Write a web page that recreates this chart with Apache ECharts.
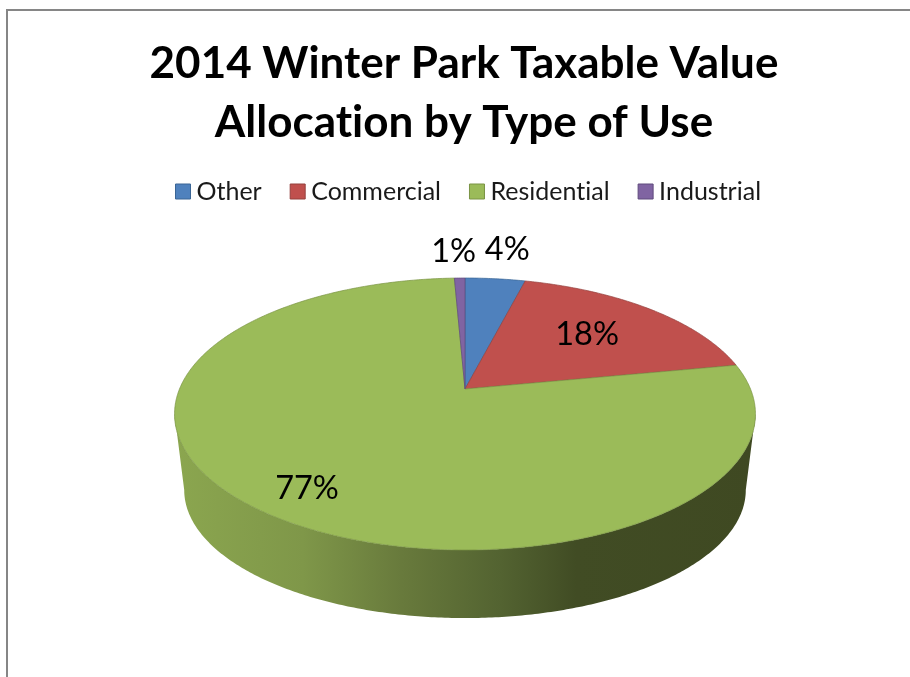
<!DOCTYPE html>
<html>
<head>
<meta charset="utf-8">
<style>html,body{margin:0;padding:0;background:#fff}#c{width:910px;height:677px}</style>
<script src="https://cdn.jsdelivr.net/npm/echarts@6/dist/echarts.min.js"></script>
</head>
<body>
<div id="c"></div>
<script>
const categories = ['Other', 'Commercial', 'Residential', 'Industrial'];
const values = [4.0, 18.0, 77.3, 0.7];
const titleText = '2014 Winter Park Taxable Value\nAllocation by Type of Use';

const colors = ['#4f81bd', '#c0504d', '#9bbb59', '#8064a2'];
const edges = ['#3a6595', '#94403d', '#7a9444', '#5f4a7d'];
// placement of each percentage label: radius fraction, then pixel nudge
const labelPlace = [[1, 12, -29], [0.65, -3, 0], [0.83, 9, 2], [1, -6, -27]];

// plain glyphs, no "ti" ligature, as in the reference
const origGetContext = HTMLCanvasElement.prototype.getContext;
HTMLCanvasElement.prototype.getContext = function () {
  const ctx = origGetContext.apply(this, arguments);
  if (ctx && 'textRendering' in ctx) ctx.textRendering = 'optimizeSpeed';
  return ctx;
};

// Tilted-disc projection of the pie
const K = 0.1838;
const TOP = {cx: 465, cy: 389, bx: 285.5, by: 131.4};
const BOTTOM = {cx: 465, cy: 466.5, bx: 276, by: 123.7};
const SIDE_FROM = Math.acos(-K), SIDE_TO = 2 * Math.PI - SIDE_FROM;

function project(face, theta, r) {
  const u = r * Math.sin(theta), v = r * Math.cos(theta), w = 1 + K * v;
  return [face.cx + face.bx * u / w, face.cy - face.by * v / w];
}
function arc(face, a, b) {
  const n = Math.max(2, Math.ceil(Math.abs(b - a) / 0.01)), pts = [];
  for (let i = 0; i <= n; i++) pts.push(project(face, a + (b - a) * i / n, 1));
  return pts;
}

const total = values.reduce((s, x) => s + x, 0);
const starts = [];
values.reduce((s, x, i) => (starts[i] = s, s + x), 0);

const sideFill = new echarts.graphic.LinearGradient(175, 0, 756, 0, [
  {offset: 0, color: '#8ba64f'},
  {offset: 0.22, color: '#7f9749'},
  {offset: 0.39, color: '#687a3c'},
  {offset: 0.56, color: '#536331'},
  {offset: 0.69, color: '#414c24'},
  {offset: 1, color: '#3f4922'}
], true);

function renderSlice(i) {
  return function (params, api) {
    const a = starts[i] / total * 2 * Math.PI;
    const b = (starts[i] + api.value(0)) / total * 2 * Math.PI;
    const children = [];
    const sa = Math.max(a, SIDE_FROM), sb = Math.min(b, SIDE_TO);
    if (sb > sa) {
      children.push({
        type: 'polygon',
        shape: {points: arc(TOP, sa, sb).concat(arc(BOTTOM, sb, sa))},
        style: {fill: sideFill, stroke: 'none'}
      });
    }
    children.push({
      type: 'polygon',
      shape: {points: [project(TOP, 0, 0)].concat(arc(TOP, a, b))},
      style: {fill: colors[i], stroke: edges[i], lineWidth: 0.7}
    });
    const mid = (a + b) / 2, lp = labelPlace[i], p = project(TOP, mid, lp[0]);
    children.push({
      type: 'text',
      z2: 100,
      style: {
        text: Math.round(api.value(0) / total * 100) + '%',
        x: p[0] + lp[1], y: p[1] + lp[2],
        fill: '#000', font: '32.5px Lato',
        align: 'center', verticalAlign: 'middle'
      }
    });
    return {type: 'group', children: children};
  };
}

const chart = echarts.init(document.getElementById('c'), null, {renderer: 'canvas'});
chart.setOption({
  animation: false,
  backgroundColor: '#fff',
  title: {
    text: titleText,
    left: 459, top: 29, textAlign: 'center',
    textStyle: {fontFamily: 'Lato', fontWeight: 'bold', fontSize: 44, lineHeight: 59, color: '#000'}
  },
  legend: {
    left: 170, top: 174, orient: 'horizontal',
    icon: 'rect', itemWidth: 15, itemHeight: 15, itemGap: 28,
    textStyle: {fontFamily: 'Lato', fontSize: 25, color: '#1a1a1a', padding: [0, 0, 0, 1]},
    data: categories.map((name, i) => ({name, itemStyle: {color: colors[i], borderColor: edges[i], borderWidth: 1}}))
  },
  graphic: [{
    type: 'polyline', silent: true,
    shape: {points: [[7, 677], [7, 10], [910, 10]]},
    style: {fill: 'none', stroke: '#868686', lineWidth: 2}
  }],
  series: categories.map((name, i) => ({
    type: 'custom', name,
    coordinateSystem: 'none',
    itemStyle: {color: colors[i]},
    renderItem: renderSlice(i),
    data: [[values[i]]]
  }))
});
</script>
</body>
</html>
